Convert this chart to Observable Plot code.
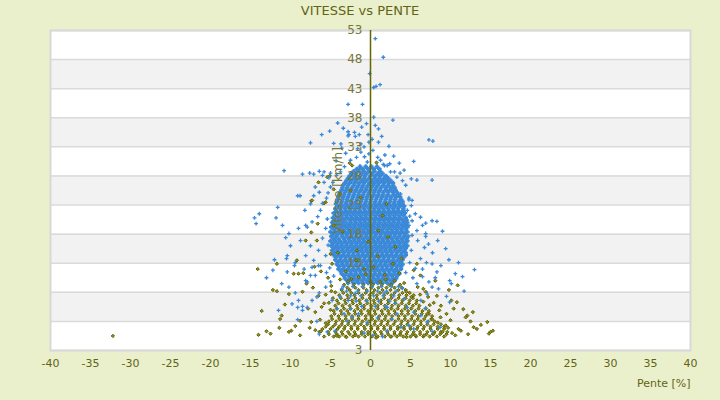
<!DOCTYPE html>
<html><head><meta charset="utf-8">
<script src="https://cdn.jsdelivr.net/npm/d3@7"></script>
<script src="https://cdn.jsdelivr.net/npm/@observablehq/plot@0.6"></script>
<style>
html,body{margin:0;padding:0;background:#ebf0cc;}
body{width:720px;height:400px;overflow:hidden;font-family:"DejaVu Sans",sans-serif;}
#title{height:24px;line-height:21px;text-align:center;font-size:13px;color:#5f6416;}
</style></head><body>
<div id="title">VITESSE vs PENTE</div>
<div id="chart"></div>
<script>
const titleText = "VITESSE vs PENTE";
const xLabel = "Pente [%]";
const yLabel = "Vitesse [km/h]";
const xTicks = [-40,-35,-30,-25,-20,-15,-10,-5,0,5,10,15,20,25,30,35,40];
const yGrid = [53,48,43,38,33,28,23,18,13,8,3,-2];
const yTickValues = [53,48,43,38,33,28,23,18,13,-2];
const yTickLabels = ["53","48","43","38","33","28","23","18","13","3"];

// blue series: dense core as rows [speed, [slopes...]]
const blueCoreRows = [
 [29.6,[-1.3,-0.6,0.1,0.8]],
 [29.2,[-1.7,-1.0,-0.3,0.4,1.1]],
 [28.8,[-2.1,-1.4,-0.8,-0.2,0.5,1.2]],
 [28.4,[-2.4,-1.8,-1.1,-0.5,0.2,0.9,1.5]],
 [28.0,[-2.6,-2.0,-1.3,-0.7,0.0,0.6,1.2,1.9]],
 [27.6,[-2.8,-2.1,-1.5,-0.8,-0.2,0.5,1.1,1.7,2.2]],
 [27.2,[-3.0,-2.4,-1.8,-1.1,-0.5,0.2,0.8,1.4,2.0,2.5]],
 [26.8,[-3.2,-2.6,-2.0,-1.4,-0.8,-0.1,0.5,1.1,1.7,2.3,2.8]],
 [26.4,[-3.4,-2.8,-2.1,-1.5,-0.9,-0.3,0.3,0.9,1.6,2.2,2.8]],
 [26.0,[-3.5,-2.9,-2.3,-1.7,-1.1,-0.5,0.1,0.7,1.3,1.9,2.5,3.0]],
 [25.6,[-3.6,-3.0,-2.4,-1.8,-1.2,-0.6,0.0,0.6,1.2,1.9,2.5,3.1]],
 [25.2,[-3.8,-3.2,-2.6,-2.0,-1.4,-0.8,-0.2,0.4,1.0,1.6,2.2,2.8,3.3]],
 [24.8,[-3.9,-3.3,-2.7,-2.1,-1.5,-0.9,-0.3,0.4,1.0,1.6,2.2,2.9,3.5]],
 [24.4,[-4.0,-3.4,-2.8,-2.2,-1.6,-1.0,-0.4,0.2,0.8,1.4,2.0,2.6,3.2,3.7]],
 [24.0,[-4.1,-3.5,-2.9,-2.3,-1.7,-1.1,-0.5,0.1,0.7,1.3,1.9,2.5,3.1,3.8]],
 [23.6,[-4.2,-3.6,-3.0,-2.4,-1.8,-1.2,-0.6,0.0,0.6,1.2,1.8,2.4,3.0,3.6,4.0]],
 [23.2,[-4.3,-3.7,-3.1,-2.5,-1.9,-1.3,-0.7,-0.1,0.5,1.1,1.7,2.3,2.9,3.5,4.0]],
 [22.8,[-4.1,-3.5,-2.9,-2.3,-1.7,-1.1,-0.5,0.1,0.7,1.3,1.9,2.5,3.1,3.7,4.2]],
 [22.4,[-4.4,-3.8,-3.2,-2.6,-2.0,-1.4,-0.8,-0.2,0.4,1.0,1.6,2.2,2.8,3.4,4.1]],
 [22.0,[-4.3,-3.7,-3.1,-2.5,-1.9,-1.3,-0.7,-0.1,0.5,1.1,1.7,2.3,2.9,3.5,4.1]],
 [21.6,[-4.6,-4.0,-3.4,-2.8,-2.2,-1.6,-1.0,-0.4,0.2,0.8,1.4,2.0,2.6,3.2,3.8,4.3]],
 [21.2,[-4.4,-3.7,-3.1,-2.5,-1.9,-1.3,-0.7,-0.1,0.5,1.1,1.7,2.3,2.9,3.5,4.1]],
 [20.8,[-4.7,-4.1,-3.5,-2.9,-2.3,-1.7,-1.1,-0.5,0.1,0.7,1.3,1.9,2.5,3.1,3.7,4.4]],
 [20.4,[-4.5,-3.9,-3.3,-2.6,-2.0,-1.4,-0.8,-0.2,0.4,1.0,1.6,2.2,2.8,3.4,4.0,4.5]],
 [20.0,[-4.8,-4.2,-3.6,-3.0,-2.4,-1.8,-1.2,-0.6,0.0,0.6,1.2,1.8,2.4,3.0,3.6,4.2,4.6]],
 [19.6,[-4.5,-3.9,-3.3,-2.7,-2.1,-1.5,-0.9,-0.3,0.3,0.9,1.5,2.1,2.7,3.3,3.9,4.4]],
 [19.2,[-4.9,-4.3,-3.7,-3.1,-2.5,-1.9,-1.3,-0.7,-0.1,0.5,1.1,1.7,2.3,2.9,3.5,4.1,4.6]],
 [18.8,[-4.6,-4.0,-3.4,-2.8,-2.2,-1.6,-1.0,-0.4,0.2,0.8,1.4,2.0,2.6,3.2,3.8,4.4]],
 [18.4,[-5.0,-4.4,-3.8,-3.2,-2.6,-2.0,-1.4,-0.8,-0.2,0.4,1.0,1.6,2.2,2.8,3.4,4.0,4.6]],
 [18.0,[-4.7,-4.1,-3.5,-2.9,-2.3,-1.7,-1.1,-0.5,0.1,0.7,1.3,1.9,2.5,3.1,3.7,4.3]],
 [17.6,[-4.9,-4.3,-3.6,-3.0,-2.4,-1.8,-1.2,-0.6,0.0,0.6,1.2,1.8,2.4,3.0,3.6,4.2,4.7]],
 [17.2,[-4.6,-4.0,-3.3,-2.7,-2.1,-1.5,-0.9,-0.3,0.3,0.9,1.5,2.1,2.7,3.3,3.9,4.5]],
 [16.8,[-5.0,-4.4,-3.8,-3.2,-2.6,-2.0,-1.4,-0.8,-0.2,0.4,1.0,1.6,2.2,2.8,3.4,4.0,4.6]],
 [16.4,[-4.7,-4.1,-3.5,-2.9,-2.3,-1.7,-1.1,-0.5,0.1,0.7,1.3,1.9,2.5,3.1,3.7,4.3]],
 [16.0,[-4.9,-4.3,-3.7,-3.1,-2.5,-1.9,-1.3,-0.7,-0.1,0.5,1.1,1.7,2.3,2.9,3.5,4.1,4.6]],
 [15.6,[-4.6,-4.0,-3.4,-2.8,-2.2,-1.6,-1.0,-0.4,0.2,0.8,1.4,2.0,2.6,3.2,3.8,4.4]],
 [15.2,[-4.8,-4.2,-3.6,-3.0,-2.4,-1.8,-1.2,-0.6,0.0,0.6,1.2,1.8,2.4,3.0,3.6,4.2]],
 [14.8,[-4.5,-3.9,-3.3,-2.7,-2.1,-1.5,-0.9,-0.3,0.3,0.9,1.5,2.1,2.7,3.3,3.9,4.4]],
 [14.4,[-4.6,-4.0,-3.4,-2.8,-2.2,-1.6,-1.0,-0.4,0.2,0.8,1.4,2.0,2.6,3.2,3.8,4.4]],
 [14.0,[-4.3,-3.7,-3.1,-2.5,-1.9,-1.3,-0.7,-0.1,0.5,1.1,1.7,2.3,2.9,3.5,4.1]],
 [13.6,[-4.4,-3.8,-3.2,-2.6,-2.0,-1.4,-0.8,-0.2,0.4,1.0,1.6,2.2,2.8,3.4,4.0]],
 [13.2,[-4.1,-3.5,-2.9,-2.3,-1.7,-1.1,-0.5,0.1,0.7,1.3,1.9,2.5,3.1,3.7]],
 [12.8,[-4.2,-3.6,-3.0,-2.4,-1.8,-1.2,-0.6,0.0,0.6,1.2,1.8,2.4,3.0,3.6,4.0]],
 [12.4,[-3.9,-3.3,-2.7,-2.1,-1.5,-0.9,-0.3,0.3,0.9,1.5,2.1,2.7,3.3,3.8]],
 [12.0,[-4.0,-3.4,-2.8,-2.2,-1.6,-1.0,-0.4,0.2,0.8,1.4,2.0,2.6,3.2,3.8]],
 [11.6,[-3.7,-3.1,-2.5,-1.9,-1.3,-0.7,-0.1,0.5,1.1,1.7,2.3,2.9,3.4]],
 [11.2,[-3.6,-3.0,-2.4,-1.8,-1.2,-0.6,0.0,0.6,1.2,1.8,2.4,3.0,3.6]],
 [10.8,[-3.3,-2.7,-2.1,-1.5,-0.9,-0.3,0.3,0.9,1.5,2.1,2.7,3.3]],
 [10.4,[-3.2,-2.6,-2.0,-1.4,-0.8,-0.2,0.4,1.0,1.6,2.2,2.8,3.2]],
 [10.0,[-2.9,-2.3,-1.7,-1.1,-0.5,0.1,0.7,1.3,1.9,2.5,3.0]],
 [9.6,[-2.8,-2.1,-1.5,-0.9,-0.3,0.3,0.9,1.5,2.1,2.7]]
];
// blue series: sparser rows mixed into the lower band
const blueLowRows = [
 [9.0,[-3.4,-2.2,-1.0,0.2,1.4,2.6,3.5]],
 [8.2,[-3.0,-1.6,-0.4,0.9,2.0,3.2]],
 [7.4,[-2.5,-1.2,0.4,1.6,2.9]],
 [6.5,[-1.8,-0.5,1.0,2.4]],
 [5.6,[-1.1,0.6,1.9]]
];
// blue series: scattered points [slope, speed]
const blueScatter = [
 [0.6,51.6],[1.6,48.4],[-0.1,45.6],[0.4,43.2],[0.7,43.4],[1.2,43.7],[-2.8,40.3],[-1.0,40.3],[0.4,38.1],[2.8,37.6],[-4.1,37.1],[-0.5,37],[-6.1,35.1],[-5.1,35.7],[-2.8,35.6],[-2,35.5],[-1.4,35.1],[-2.8,34.9],[0.6,36.7],[1,36.1],[1.4,34.8],[-0.2,33.8],[1,33.8],[-7.5,33.7],[-4.6,33.6],[-3.7,33.5],[-0.8,33],[2.3,33.1],[7.3,34.2],[7.8,34],[5.4,30.5],
 [-10.8,28.9],[-8.5,28.3],[-7.6,28.5],[-7.1,28.3],[-6.4,28.8],[-5.8,28.7],[-5,28.5],[1.6,30],[2.1,29.8],[2.5,28.7],[3,28.7],[3.7,28.5],[4.2,29],[5.1,27.5],[5.8,27.3],[7.7,27.3],[-9.1,24.6],[-8.8,24.6],[-11.6,22.6],[-11.8,20.8],[-13.9,21.5],[-14.5,20.8],[-14.3,19.8],[-10.2,18.1],[-8.1,19.5],[9,18.5],[8.3,20.2],[7.7,20.3],[6.9,19.9],[5.2,23.8],[4.8,24.2],
 [-12,13.6],[-10.4,14.3],[-10.5,13.8],[-12.2,11.8],[-13,10.5],[-11.1,9.5],[-10.4,11.5],[-9.5,12.6],[-10.2,8.9],[-11.5,4.9],[-9.1,3.3],[-9.8,6],[-9.1,5.4],[-8.5,5.6],[-8.5,4.9],[9.8,13.6],[11,13.1],[13,11.9],[11.5,10.7],[10.6,11.2],[9.9,10],[10.1,9.5],[11.7,8.2],[9.5,7.3],[9.9,6.3],[8.8,12.6],[7,13.1],[6.5,12],[7.7,12.9],[8.3,11.5],[8.1,10.5],[8.5,8.6],[8.7,2],[7.7,1.3],[5.4,1.7],[1.5,0.4],[0.3,0.6],[-0.8,1],[-6.4,0.8],[-5.4,1.2],[-4.4,1.4],[-2.9,3],[-6.7,3],[-7.9,5.4],[-7.3,6.6],[-6.7,7.2],[-6.4,7.9],[-5.6,8.9],[-5,9.8],[-7.9,9.8],[-7.5,10.9],[-8.3,12],[-7.3,12.3],[-6.5,12.6],[-9.4,7.9],[-9,6.6],
 [4.2,6.9],[4.6,5.4],[3.3,4.3],[5.4,4.6],[6.9,5.3],[6.3,6.6],[7.1,7.7],[7.7,8.9],[7.3,9.8],[5.8,9.5],[5.3,10.5],[6.5,10.7],[-2.5,5.2],[-1.5,4.3],[-2.3,3.7],[-3.3,4.3],[-4.2,5.2],[-4.8,6.6],[-3.8,7.2],[-2.8,6.6],[2.1,5.4],[2.7,3.4],[4.8,2.3],[3.8,2],[2.1,1.4],[6.3,4],[7.1,2.9],
 [-2.7,35.1],[-1.9,34.8],[-0.3,35.1],[-1.2,33.5],[-1.6,32.7],[-1.2,32.1],[-0.2,31.8],[-0.75,31.3],[-1.75,31.2],[-2.5,30.7],[-3.25,29.6],[-3.75,28.7],[-4.25,28.1],[-4.7,26.9],[-5,26.1],[-5.3,25.1],[-5.5,24.2],[-6,23.3],[-6.25,22.1],[-6.6,21],[-7.3,20.1],[-7.9,19.2],[-8.2,22.1],[-7.5,23.2],[-7.1,24.6],[-6.4,25.2],[-6.9,26.1],[-5.8,26.9],[-5.2,27.7],[-6,28.1],
 [1.25,30.7],[1.75,29.8],[2.4,30.1],[3.3,27.8],[4,27.2],[4.4,26.4],[2.9,25.8],[3.75,24.9],[4.8,23.9],[5.1,22.9],[4.6,22.1],[5.6,21.5],[6.25,20.9],[5.2,20.3],[6.5,19.5],[5.8,18.6],[6.9,18.1],[4.8,19.5],
 [5.9,16.9],[6.75,15.7],[7.75,14.8],[6.25,13.8],[7.25,16.3],[8.4,16.9],[9.4,15.5],[5.6,12.1],[6.9,17.6],[-8.75,16.9],[-7.5,16],[-6.5,15.2],[-8.1,14.3],[-9.4,13.1],[-7.1,13.5],[-6,17.3],[-10,16],[-10.6,17.4],[-9,19],[-11,19.5],[-5.6,19],[-6.25,12.6],[-5.5,11.4],[-6.9,10.9],[-8.1,10],[-5.6,14.3],
 [0.3,32.4],[1.8,31.6],[-0.4,30.4],[0.9,31.2],[-3.1,31.9],[2.9,31.4],[3.6,30.2],[-4.3,30.6],[-3.6,32.8],[0.2,34.3],[-1.1,36.4],[-3.4,36.2],
 [0.9,3.6],[-0.4,2.8],[3.1,6.1],[-3.6,8.6],[4.0,8.7],[1.7,7.9],[-1.9,7.8],[-4.6,10.8],[4.4,11.4],[-5.1,12.2],[4.9,13.1],[-5.3,16.1],[5.1,15.2],[5.2,17.8],[-5.4,20.6],[4.9,21.1]
];
// olive series: dense lower band as rows [speed, [slopes...]]
const oliveRows = [
 [0.4,[-5.8,-4.6,-3.9,-3.1,-2.2,-1.5,-0.7,0.2,0.9,1.8,2.6,3.3,4.1,5.0,5.7,6.6,7.4,8.3,9.2]],
 [0.8,[-5.2,-4.2,-3.5,-2.6,-1.9,-1.1,-0.3,0.6,1.4,2.2,3.0,3.7,4.5,5.3,6.2,7.0,7.8,8.7,9.5]],
 [1.2,[-6.4,-5.3,-4.4,-3.6,-2.8,-2.0,-1.1,-0.3,0.5,1.3,2.1,3.0,3.8,4.6,5.4,6.2,7.1,8.0,8.8,9.6]],
 [1.7,[-6.0,-5.0,-4.1,-3.3,-2.4,-1.6,-0.7,0.1,0.9,1.7,2.5,3.4,4.2,5.0,5.8,6.6,7.5,8.4,9.2]],
 [2.1,[-5.6,-4.7,-3.9,-3.2,-2.4,-1.6,-0.8,0.1,0.9,1.7,2.5,3.4,4.2,5.0,5.9,6.7,7.5,8.4,9.2]],
 [2.5,[-5.3,-4.4,-3.6,-2.8,-2.0,-1.2,-0.4,0.5,1.3,2.1,2.9,3.8,4.6,5.4,6.3,7.1,7.9,8.8]],
 [3.0,[-5.2,-4.3,-3.5,-2.7,-1.9,-1.0,-0.2,0.6,1.4,2.2,3.1,3.9,4.7,5.5,6.3,7.2,8.0]],
 [3.4,[-4.8,-3.9,-3.1,-2.3,-1.5,-0.6,0.2,1.0,1.8,2.6,3.5,4.3,5.1,5.9,6.7,7.6]],
 [3.9,[-4.9,-4.0,-3.1,-2.3,-1.5,-0.6,0.2,1.1,1.9,2.7,3.5,4.3,5.2,6.0,6.9,7.7]],
 [4.3,[-4.5,-3.6,-2.7,-1.9,-1.1,-0.2,0.6,1.5,2.3,3.1,3.9,4.7,5.6,6.4,7.3]],
 [4.8,[-4.6,-3.7,-2.9,-2.0,-1.2,-0.3,0.5,1.4,2.2,3.0,3.9,4.7,5.6,6.5,7.3]],
 [5.2,[-4.2,-3.3,-2.5,-1.6,-0.8,0.1,0.9,1.8,2.6,3.4,4.3,5.1,6.0,6.9]],
 [5.7,[-4.4,-3.5,-2.6,-1.7,-0.8,0.1,0.9,1.8,2.7,3.5,4.4,5.3,6.1]],
 [6.1,[-4.0,-3.1,-2.2,-1.3,-0.4,0.5,1.3,2.2,3.1,3.9,4.8,5.7]],
 [6.6,[-4.2,-3.2,-2.3,-1.4,-0.5,0.4,1.3,2.2,3.1,4.0,4.9,5.8]],
 [7.0,[-3.7,-2.8,-1.9,-1.0,-0.1,0.8,1.7,2.6,3.5,4.4,5.3]],
 [7.5,[-3.9,-2.9,-2.0,-1.0,-0.1,0.8,1.7,2.6,3.6,4.5,5.4]],
 [7.9,[-3.4,-2.4,-1.5,-0.6,0.3,1.2,2.1,3.0,4.0,4.9]],
 [8.4,[-3.6,-2.6,-1.5,-0.5,0.5,1.5,2.5,3.5,4.4]],
 [8.8,[-2.9,-1.9,-0.9,0.1,1.0,2.0,3.0,3.9]],
 [9.3,[-3.3,-2.1,-0.9,0.3,1.4,2.6,3.7]]
];
// olive series: scattered points [slope, speed]
const oliveScatter = [
 [-32.2,0.5],[-14.1,12],[-14,0.7],[-13,1.3],[-10.2,1.2],[-9.9,1.4],[-8.8,0.6],[-6.9,1.5],[-6.2,1.3],[-9.2,13.5],[-11.7,12.9],[-12.2,8.4],[-11.7,8.2],[-10.7,5.9],[-11.1,4],[-11.3,3.4],[-10.2,7.7],[-9.6,11.2],[-9,11.2],[-8.4,11.3],[-8.5,8.1],[-7.4,2.9],[-6.3,3.3],
 [14.6,2.9],[14.8,0.9],[15,1.2],[15.3,1.4],[13.3,1.7],[12.9,2],[12.5,3],[12.1,4],[11.9,3.7],[11,1.7],[11.3,1.4],[10.6,0.6],[10,3.2],[10.4,5.2],[10.1,6.6],[9.5,4.3],[8.75,3.7],[9.4,2.3],[9,1.2],[7.9,0.9],[6.7,0.6],[7.7,3.4],[7.1,4.3],[8.8,5.7],[8.3,7.4],[7.2,7.2],[10.8,6.3],[6.6,8.6],[8.1,10],[6.25,10.9],[5.8,12.9],[5.4,11.8],
 [-8,9.5],[-7.2,8.8],[-6.5,7.4],[-5.8,6.1],[-7.8,5.2],[-6.9,4.6],[-8.8,3.1],[-5.6,2.7],[-9.4,2.2],[-7.6,1.9],[-4.9,9.1],[-5.3,10.5],[-6.2,11.6],[-7,12.4],[-4.8,12.9],
 [-6.5,26.9],[-7.4,23.7],[-5.6,23.5],[-6.6,19.8],[-7.4,18.3],[-2.6,30.2],[-2.3,29.8],[0.75,30.3],[-5.1,28],[-4.6,25.7],[-3.8,24.9],[-5.4,27.8],[-5.8,23.3],[-7.3,23.8],[-8.1,16.9],[-2.5,25.5],[-1.25,24.3],[1.5,21.2],[1,18.6],[3.1,15.8],[2,23.2],[-5,14.6],[-6.7,16.9],[-1.7,15.2],[-4.6,19.5],
 [0.4,12.3],[-0.6,11.1],[1.9,10.2],[-1.8,13.5],[2.8,12.9],[-3.1,11.6],[0.9,14.2],[3.6,11.3],[-2.4,10.3],[1.2,9.8],[-0.3,16.7],[2.2,17.5],[-3.5,18.4],[3.9,13.8],[-4.1,14.8],
 [-4.2,0.5],[-3,0.3],[-1.9,0.6],[0.7,0.2],[2.5,0.4],[3.7,0.7],[4.5,0.3],[5.6,0.6],[12.2,0.8],[13.8,2.4],[-12.5,0.9],[-11.4,1.9],[-13.6,4.8],[11.6,5.1],[12.8,4.6],[9.8,8.4],[10.9,9.2],
 [-5.2,6.2],[-5.6,7.6],[-4.9,8.2],[-6.1,5.5],[-5.0,5.0],[-4.7,7.0],[6.6,6.4],[7.4,5.8],[6.2,7.6],[7.9,6.2],[8.6,4.9],[6.9,8.1],[5.9,8.9],[8.4,2.8],[9.7,1.9],[10.2,1.0],
 [-2.8,9.9],[-1.5,10.6],[0.0,9.8],[1.8,11.0],[3.0,10.0],[4.2,9.6],[-3.8,10.2],[2.4,9.2],[-0.8,12.0],[4.5,8.1],[5.1,7.2],[-4.4,8.0]
];

const rowsToPts = rows => rows.flatMap(([v, xs]) => xs.map(x => ({x, v})));
const pairsToPts = pairs => pairs.map(([x, v]) => ({x, v}));
const blueCore = rowsToPts(blueCoreRows);
const blueTop = rowsToPts(blueLowRows).concat(pairsToPts(blueScatter));
const olivePts = rowsToPts(oliveRows).concat(pairsToPts(oliveScatter));

const bands = d3.range(yGrid.length - 1).map(i => ({hi: yGrid[i], lo: yGrid[i + 1], fill: i % 2 ? "#f2f2f2" : "#ffffff"}));
const yTicks = yTickValues.map((v, i) => ({v, label: yTickLabels[i]}));

document.getElementById("title").textContent = titleText;

const blueColor = "#3a89d8";
const chart = Plot.plot({
  width: 720, height: 376,
  marginTop: 6, marginBottom: 50, marginLeft: 50, marginRight: 30,
  style: {background: "transparent", fontFamily: "DejaVu Sans, sans-serif", fontSize: "11px", color: "#5f6416"},
  x: {domain: [-40, 40]},
  y: {domain: [-2, 53], axis: null},
  marks: [
    Plot.rect(bands, {y1: "lo", y2: "hi", fill: "fill"}),
    Plot.ruleY(yGrid, {stroke: "#dadada", strokeWidth: 1.5}),
    Plot.frame({stroke: "#d8d8d8", strokeWidth: 2}),
    Plot.dot(blueCore, {x: "x", y: "v", symbol: "plus", r: 1.6, stroke: blueColor, strokeWidth: 2.2}),
    Plot.dot(olivePts, {x: "x", y: "v", symbol: "diamond2", r: 1.5, stroke: "#606000", fill: "#8f8f22", strokeWidth: 1}),
    Plot.dot(blueTop, {x: "x", y: "v", symbol: "plus", r: 1.35, stroke: blueColor, strokeWidth: 1.3}),
    Plot.ruleX([0], {stroke: "#666600", strokeWidth: 1.5}),
    Plot.text([yLabel], {x: () => 0, frameAnchor: "middle", rotate: -90, dx: -32, fill: "#77773a", fontSize: 12}),
    Plot.text(yTicks, {x: () => 0, y: "v", text: "label", textAnchor: "end", dx: -8, fill: "#77773a", fontSize: 12}),
    Plot.axisX({ticks: xTicks, tickSize: 0, tickPadding: 9, tickFormat: d => String(d), fill: "#5f6416", label: null}),
    Plot.text([xLabel], {frameAnchor: "bottom-right", textAnchor: "end", lineAnchor: "bottom", dy: 36, fill: "#5f6416", fontSize: 11})
  ]
});
document.getElementById("chart").appendChild(chart);
</script></body></html>
